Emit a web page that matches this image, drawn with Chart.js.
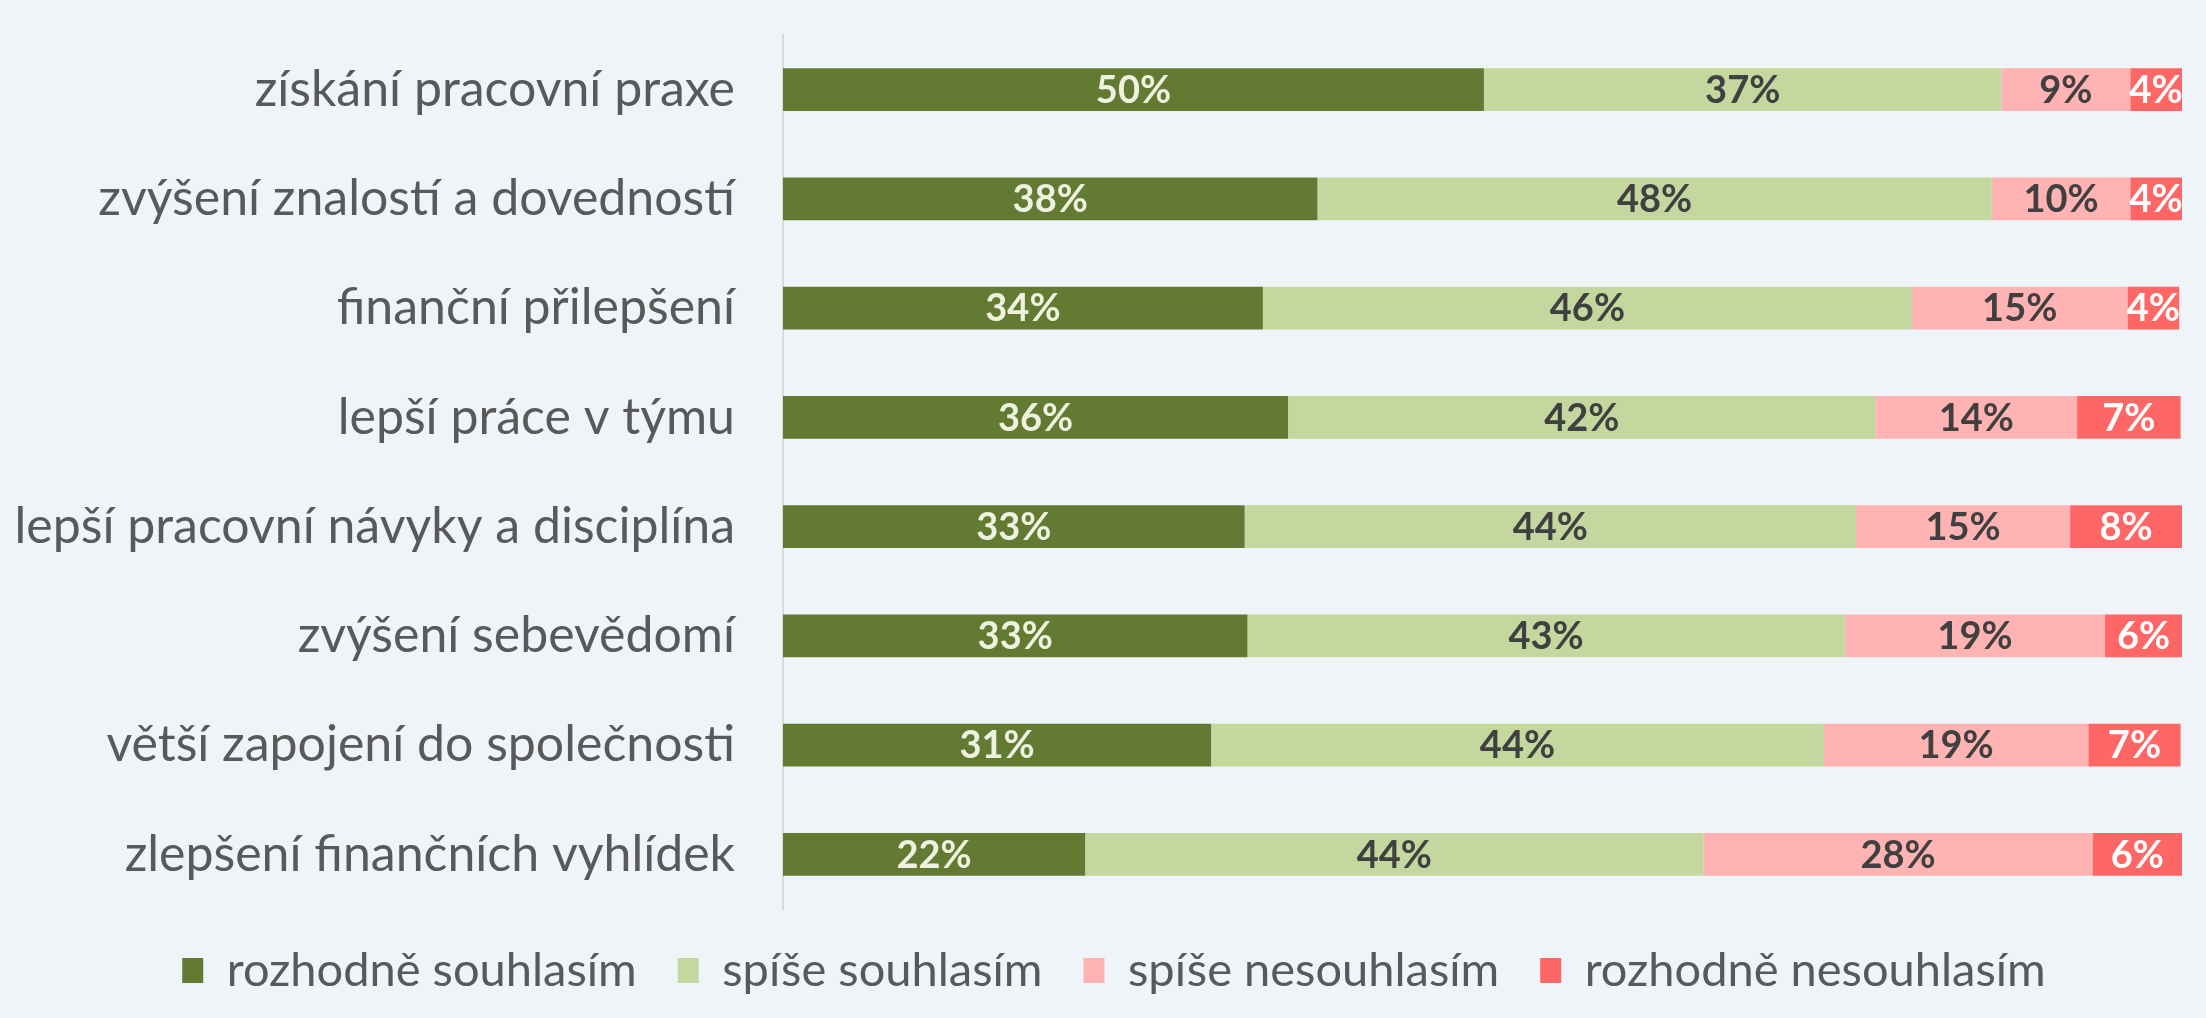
<!DOCTYPE html>
<html>
<head>
<meta charset="utf-8">
<script src="https://cdn.jsdelivr.net/npm/chart.js@4/dist/chart.umd.min.js"></script>
<style>
html,body{margin:0;padding:0;background:#EFF4F9;}
#wrap{width:2206px;height:1018px;position:relative;}
</style>
</head>
<body>
<div id="wrap"><canvas id="mcnv"></canvas></div>
<script>
var kategorie = [
	"získání pracovní praxe",
	"zvýšení znalostí a dovedností",
	"finanční přilepšení",
	"lepší práce v týmu",
	"lepší pracovní návyky a disciplína",
	"zvýšení sebevědomí",
	"větší zapojení do společnosti",
	"zlepšení finančních vyhlídek"
];
var rozhodneAno = [50.1, 38.2, 34.3, 36.1, 33.0, 33.2, 30.6, 21.6];
var spiseAno = [37.0, 48.2, 46.4, 42.0, 43.7, 42.7, 43.8, 44.2];
var spiseNe = [9.2, 9.9, 15.4, 14.4, 15.3, 18.6, 18.9, 27.8];
var rozhodneNe = [3.7, 3.7, 3.7, 7.4, 8.0, 5.5, 6.6, 6.4];
var nazvy = ["rozhodně souhlasím", "spíše souhlasím", "spíše nesouhlasím", "rozhodně nesouhlasím"];

var barvy = ["#637A33", "#C4D79E", "#FFB3B3", "#FF6666"];
var barvyTextu = ["#EEF2DF", "#404040", "#404040", "#FFFFFF"];
var pismo = "Lato, 'Open Sans', sans-serif";

var popisky = {
	id: 'popisky',
	afterDatasetsDraw: function(chart){
		var ctx = chart.ctx;
		ctx.save();
		ctx.font = "bold 38px " + pismo;
		ctx.textAlign = "center";
		ctx.textBaseline = "middle";
		chart.data.datasets.forEach(function(ds, i){
			var meta = chart.getDatasetMeta(i);
			meta.data.forEach(function(el, j){
				var v = ds.data[j];
				ctx.fillStyle = barvyTextu[i];
				ctx.fillText(Math.round(v) + "%", (el.x + el.base) / 2, el.y + 1);
			});
		});
		ctx.restore();
	}
};

// legenda je v originale posunuta trochu doprava a nahoru
var posunLegendy = {
	id: 'posunLegendy',
	afterLayout: function(chart){
		var lg = chart.legend;
		lg.left += 23; lg.right += 23;
		lg.top -= 3; lg.bottom -= 3;
	}
};

var sady = [rozhodneAno, spiseAno, spiseNe, rozhodneNe].map(function(d, i){
	return {
		label: nazvy[i],
		data: d,
		backgroundColor: barvy[i],
		borderWidth: 0,
		barPercentage: 0.39,
		categoryPercentage: 1
	};
});

var lgj = new Chart(document.getElementById("mcnv"), {
	type: 'bar',
	data: { labels: kategorie, datasets: sady },
	plugins: [popisky, posunLegendy],
	options: {
		indexAxis: 'y',
		responsive: true,
		maintainAspectRatio: false,
		animation: false,
		layout: { padding: { top: 35, right: 24, bottom: 11, left: 0 } },
		scales: {
			x: {
				stacked: true,
				min: 0,
				max: 100,
				display: false
			},
			y: {
				stacked: true,
				grid: { display: false, drawTicks: false },
				border: { display: true, color: '#D9D9D9', width: 2 },
				ticks: {
					color: '#595959',
					padding: 48,
					font: { family: pismo, size: 50 }
				},
				afterFit: function(s){
					s.width = 783;
					s.paddingTop = 0;
					s.paddingBottom = 0;
				}
			}
		},
		plugins: {
			tooltip: { enabled: false },
			legend: {
				position: 'bottom',
				labels: {
					color: '#595959',
					font: { family: pismo, size: 47 },
					boxWidth: 21,
					boxHeight: 25,
					padding: 41
				}
			}
		}
	}
});
</script>
</body>
</html>
